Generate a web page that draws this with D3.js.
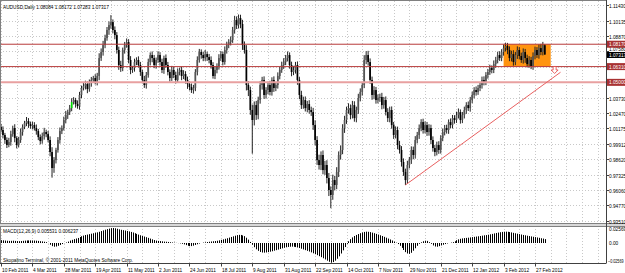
<!DOCTYPE html>
<html><head><meta charset="utf-8">
<script src="https://cdn.jsdelivr.net/npm/d3@7"></script>
<style>html,body{margin:0;padding:0;background:#fff;overflow:hidden}svg{display:block}</style>
</head><body><svg id="c" width="625" height="273"></svg>
<script>
// ---------------- DATA ----------------
const symbolTitle = "AUDUSD,Daily";
const lastOHLC = [1.08084, 1.08172, 1.07283, 1.07317];
const macdTitle = "MACD(12,26,9)";
const macdSignal = 0.006237;
const copyright = "Skopalino Terminal, \u00A9 2001-2011 MetaQuotes Software Corp.";
const dateLabels = ["10 Feb 2011","4 Mar 2011","28 Mar 2011","19 Apr 2011","11 May 2011","2 Jun 2011","24 Jun 2011","18 Jul 2011","9 Aug 2011","31 Aug 2011","22 Sep 2011","14 Oct 2011","7 Nov 2011","29 Nov 2011","21 Dec 2011","12 Jan 2012","3 Feb 2012","27 Feb 2012"];
const barsPerLabel = 16;
const firstOpen = 1.0130;
const closes = [
1.0104,1.0062,1.0021,0.9979,1.0004,1.0070,1.0120,1.0037,0.9979,1.0021,1.0087,1.0129,1.0162,1.0178,1.0154,1.0137,1.0145,1.0120,1.0095,1.0045,1.0012,1.0054,1.0087,1.0070,1.0021,
0.9921,0.9788,0.9854,0.9938,1.0021,1.0095,1.0120,1.0187,1.0228,1.0253,1.0286,1.0336,1.0353,1.0320,1.0303,1.0395,1.0453,1.0469,1.0486,1.0444,1.0494,1.0520,1.0536,1.0503,1.0553,1.0702,
1.0752,1.0810,1.0868,1.0935,1.0976,1.1001,1.0935,1.0893,1.0769,1.0644,1.0619,1.0769,1.0810,1.0835,1.0686,1.0603,1.0619,1.0669,1.0686,1.0644,1.0586,1.0520,1.0478,1.0561,1.0669,1.0727,1.0702,1.0644,1.0686,1.0727,1.0669,1.0603,1.0702,1.0644,1.0586,1.0536,1.0603,1.0561,1.0520,1.0586,1.0603,1.0553,1.0569,1.0520,1.0486,1.0461,1.0436,1.0453,1.0586,1.0686,1.0752,
1.0727,1.0702,1.0735,1.0710,1.0686,1.0644,1.0553,1.0603,1.0636,1.0702,1.0735,1.0669,1.0769,1.0810,1.0835,1.0852,1.0935,1.1018,1.0976,1.1034,1.0985,1.0810,1.0769,1.0478,1.0436,1.0270,1.0187,1.0311,1.0228,1.0353,1.0478,1.0520,1.0395,1.0436,1.0478,1.0420,1.0520,1.0453,1.0478,
1.0553,1.0603,1.0644,1.0669,1.0702,1.0727,1.0644,1.0586,1.0603,1.0644,1.0520,1.0395,1.0311,1.0353,1.0286,1.0320,1.0270,1.0253,1.0145,1.0021,0.9854,0.9813,0.9896,0.9771,0.9813,0.9705,0.9605,0.9564,0.9688,0.9647,0.9755,0.9896,0.9938,1.0120,1.0187,1.0270,1.0286,1.0228,1.0311,1.0203,
1.0270,1.0370,1.0420,1.0478,1.0686,1.0727,1.0669,1.0520,1.0395,1.0436,1.0353,1.0370,1.0378,1.0311,1.0353,1.0253,1.0203,1.0270,1.0145,1.0062,1.0104,0.9979,0.9938,0.9838,0.9755,0.9688,0.9813,0.9854,0.9938,0.9896,1.0021,1.0062,1.0120,1.0170,1.0104,1.0145,1.0087,1.0120,1.0021,0.9954,
0.9921,0.9979,0.9938,1.0037,1.0087,1.0120,1.0104,1.0170,1.0145,1.0203,1.0187,1.0228,1.0253,1.0187,1.0228,1.0270,1.0311,1.0286,1.0353,1.0395,1.0436,1.0420,1.0453,1.0478,1.0520,1.0503,1.0561,1.0586,1.0619,1.0603,1.0652,1.0686,1.0727,1.0702,1.0752,1.0785,1.0802,1.0769,1.0702,1.0735,
1.0669,1.0727,1.0769,1.0719,1.0686,1.0752,1.0702,1.0652,1.0686,1.0636,1.0719,1.0769,1.0727,1.0785,1.0752,1.08084,1.07317];
// upper / lower shadow lengths in pips
const hiWick = [
25,30,18,22,35,28,20,32,15,26,30,22,18,34,25,20,28,24,30,18,
22,28,35,20,26,30,40,25,18,24,30,22,28,35,20,26,32,24,18,30,
26,20,34,28,22,30,25,18,32,26,40,30,35,28,25,30,58,22,30,25,
28,35,20,26,30,24,32,18,28,22,30,26,20,34,25,28,22,30,26,20,
32,24,28,20,30,26,22,34,25,28,30,20,26,32,24,28,22,30,26,24,
30,26,22,28,34,20,26,30,24,28,22,32,26,20,30,28,24,30,26,35,
30,30,28,35,30,40,32,28,45,30,35,28,32,26,30,24,28,35,22,30,
26,30,24,28,32,26,30,22,28,34,26,30,24,35,28,30,26,32,28,35,
40,32,45,30,38,35,40,42,30,45,35,40,30,38,32,35,28,40,30,35,
32,28,35,30,26,40,32,35,30,28,32,26,30,28,35,26,30,32,28,30,
26,30,28,35,32,30,28,35,26,30,28,32,26,30,24,28,30,26,32,28,
30,26,28,32,24,30,26,28,22,30,26,24,28,30,22,26,28,24,30,26,
28,24,30,26,22,28,30,24,26,28,22,30,26,28,32,24,30,28,26,30,
28,32,26,30,24,28,30,26,28,32,26,30,28,24,30,35,28,8.8];
const loWick = [
20,28,32,25,18,30,22,35,28,20,24,30,18,26,32,22,28,20,30,25,
28,22,30,26,20,35,80,40,28,22,30,25,20,28,32,24,26,20,30,22,
30,26,20,28,34,22,30,25,20,28,35,24,30,26,22,40,30,28,35,30,
40,32,26,30,22,28,35,24,30,26,20,32,28,24,30,22,28,35,26,30,
24,30,26,32,22,28,30,24,26,30,22,28,35,26,30,40,28,24,30,26,
28,22,30,26,24,32,28,30,22,26,28,30,24,28,22,30,26,28,24,30,
32,28,35,40,30,45,50,40,280,45,40,35,30,38,32,30,35,28,30,32,
26,30,28,24,32,26,28,30,35,26,30,40,35,32,30,28,35,30,32,40,
45,40,38,42,35,40,45,50,110,40,45,35,42,38,35,40,32,30,35,28,
30,35,32,28,30,26,35,30,32,40,35,30,28,32,35,30,28,32,35,30,
32,28,35,30,38,32,41,30,28,32,35,30,28,32,26,30,28,32,30,35,
30,35,28,32,30,26,28,30,32,26,28,30,24,28,30,26,28,32,24,30,
26,28,30,24,26,30,28,26,30,24,28,26,30,28,24,26,30,28,35,26,
28,30,26,32,28,24,30,40,28,30,26,32,28,24,30,26,28,3.4];
const macd = [
0.0040,0.0038,0.0035,0.0032,0.0030,0.0031,0.0033,0.0030,0.0027,0.0026,0.0028,0.0031,0.0034,0.0036,0.0037,0.0037,0.0036,0.0035,0.0033,0.0030,0.0026,0.0023,
0.0018,0.0012,-0.0002,-0.0025,-0.0045,-0.0053,-0.0050,-0.0040,-0.0028,-0.0015,-0.0003,0.0008,0.0020,
0.0035,0.0045,0.0055,0.0064,0.0072,0.0085,0.0097,0.0106,0.0114,0.0120,0.0126,0.0133,0.0139,0.0146,0.0152,0.0160,0.0170,0.0180,0.0190,0.0198,0.0205,0.0212,0.0214,
0.0210,0.0203,0.0195,0.0188,0.0183,0.0178,0.0172,0.0165,0.0158,0.0150,0.0140,0.0130,0.0120,0.0110,
0.0100,0.0092,0.0083,0.0073,0.0063,0.0052,0.0042,0.0034,
0.0030,0.0027,0.0024,0.0020,0.0018,0.0015,0.0011,0.0008,0.0005,0.0002,-0.0002,-0.0006,-0.0012,-0.0020,-0.0030,-0.0040,-0.0045,
-0.0044,-0.0038,-0.0028,-0.0018,-0.0008,0.0000,0.0006,0.0010,0.0014,
0.0018,0.0022,0.0025,0.0028,0.0032,0.0038,0.0045,0.0052,0.0060,0.0068,0.0077,0.0086,0.0095,0.0104,0.0112,0.0116,
0.0115,0.0108,0.0098,0.0075,
0.0048,0.0015,-0.0025,-0.0060,-0.0090,-0.0112,-0.0128,
-0.0136,-0.0138,-0.0135,
-0.0130,-0.0124,-0.0118,-0.0110,-0.0102,-0.0094,-0.0085,-0.0076,-0.0068,-0.0061,-0.0056,-0.0053,
-0.0052,-0.0054,-0.0058,-0.0064,-0.0072,-0.0082,-0.0092,-0.0102,-0.0112,-0.0122,-0.0134,-0.0147,-0.0160,-0.0174,-0.0188,
-0.0202,-0.0218,-0.0235,-0.0252,-0.0268,-0.0280,
-0.0272,-0.0252,-0.0225,-0.0190,-0.0150,-0.0105,-0.0058,-0.0012,
0.0025,0.0055,0.0080,0.0100,0.0115,0.0128,0.0140,0.0150,0.0158,0.0162,
0.0160,0.0155,0.0148,0.0140,0.0130,0.0120,0.0110,0.0100,0.0088,0.0076,0.0063,0.0050,0.0036,0.0020,0.0005,
-0.0015,-0.0040,-0.0070,-0.0100,-0.0130,-0.0150,-0.0155,-0.0140,
-0.0110,-0.0075,-0.0040,-0.0012,
0.0010,0.0025,0.0033,0.0030,
0.0012,-0.0012,-0.0035,-0.0050,-0.0053,
-0.0045,-0.0035,-0.0025,-0.0015,-0.0007,0.0000,0.0006,0.0012,
0.0025,0.0040,0.0052,0.0060,0.0066,0.0070,0.0073,0.0076,0.0080,0.0084,0.0088,0.0092,0.0096,0.0100,0.0105,0.0110,
0.0113,0.0118,0.0124,0.0130,0.0137,0.0143,0.0149,0.0154,0.0158,0.0161,0.0162,
0.0160,0.0156,0.0151,0.0145,0.0139,0.0133,0.0127,0.0121,0.0115,0.0110,0.0104,0.0099,0.0094,0.0089,0.0084,0.0079,0.0074,0.0068,0.0063,0.005531];
const priceTicks = [1.11430,1.10135,1.08870,1.07580,1.06300,1.05020,1.03730,1.02470,1.01175,0.99912,0.98620,0.97325,0.96060,0.94770,0.93510];
const macdTicks = [0.02569, 0, -0.02569];
const levels = [1.08170, 1.06310, 1.05000];
const boxBars = [256, 280];
const boxPrices = [1.08170, 1.06310];
const trendBars = [206, 285];
const trendPrices = [0.9647, 1.0584];
const arrowBar = 282, arrowPrice = 1.0603;
const highlightBar = 36;

// ---------------- DRAW ----------------
const svg = d3.select('#c');
const PR = 606; // right edge of plot
const x = d3.scaleLinear().domain([0, 272]).range([1, 535]);
const y = d3.scaleLinear().domain([0.93510, 1.11430]).range([220.6, 5]);
const ym = d3.scaleLinear().domain([-0.02569, 0.02569]).range([261, 225]);
const FONT = "'Liberation Sans', Arial, sans-serif";
const FS = 5.8, SX = 0.82;

svg.append('rect').attr('width', 625).attr('height', 273).attr('fill', '#fff');
const defs = svg.append('defs');
defs.append('clipPath').attr('id', 'cm').append('rect').attr('x', 0).attr('y', 1).attr('width', PR).attr('height', 222.5);
defs.append('clipPath').attr('id', 'cd').append('rect').attr('x', 0).attr('y', 226.5).attr('width', PR).attr('height', 37);

const bars = closes.map((c, i) => {
  const o = i ? closes[i - 1] : firstOpen;
  return { i, o, c, h: Math.max(o, c) + hiWick[i] / 1e4, l: Math.min(o, c) - loWick[i] / 1e4 };
});

const main = svg.append('g').attr('clip-path', 'url(#cm)');
const sub = svg.append('g').attr('clip-path', 'url(#cd)');
const gridCol = '#c8c8c8';
// grid
main.selectAll('line.hg').data(priceTicks).join('line').attr('class', 'hg')
  .attr('x1', 0).attr('x2', PR).attr('y1', d => Math.round(y(d)) + 0.5).attr('y2', d => Math.round(y(d)) + 0.5)
  .attr('stroke', gridCol).attr('stroke-dasharray', '1,2');
const vIdx = d3.range(0, 320, 8).filter(j => x(j) < PR);
[[main, 1, 224], [sub, 226, 263]].forEach(([g, a, b]) => {
  g.selectAll('line.vg').data(vIdx).join('line').attr('class', 'vg')
    .attr('x1', d => Math.round(x(d)) + 0.5).attr('x2', d => Math.round(x(d)) + 0.5)
    .attr('y1', a).attr('y2', b).attr('stroke', gridCol).attr('stroke-dasharray', '1,2');
});
// orange box
main.append('rect').attr('x', x(boxBars[0])).attr('width', x(boxBars[1]) - x(boxBars[0]))
  .attr('y', y(boxPrices[0])).attr('height', y(boxPrices[1]) - y(boxPrices[0])).attr('fill', '#ff9410');
// candles
main.selectAll('line.wk').data(bars).join('line').attr('class', 'wk')
  .attr('x1', d => x(d.i)).attr('x2', d => x(d.i)).attr('y1', d => y(d.h)).attr('y2', d => y(d.l))
  .attr('stroke', '#222').attr('stroke-width', 1);
main.selectAll('rect.bd').data(bars).join('rect').attr('class', 'bd')
  .attr('x', d => x(d.i) - 0.85).attr('width', 1.7)
  .attr('y', d => y(Math.max(d.o, d.c))).attr('height', d => Math.max(0.8, Math.abs(y(d.o) - y(d.c))))
  .attr('fill', d => d.i === highlightBar ? '#00e000' : (d.c >= d.o ? '#555' : '#000'));
// level lines
const levelStyle = [{ c: '#b83a3a', w: 1 }, { c: '#b83a3a', w: 1 }, { c: '#e8a0a0', w: 2 }];
levels.forEach((v, k) => {
  main.append('line').attr('x1', 0).attr('x2', PR).attr('y1', y(v)).attr('y2', y(v))
    .attr('stroke', levelStyle[k].c).attr('stroke-width', levelStyle[k].w);
});
// trend line
main.append('line').attr('x1', x(trendBars[0])).attr('y1', y(trendPrices[0]))
  .attr('x2', x(trendBars[1])).attr('y2', y(trendPrices[1])).attr('stroke', '#e86060').attr('stroke-width', 1);
// arrow
const ax = x(arrowBar), ay = y(arrowPrice);
main.append('path').attr('d', `M${ax-1.5},${ay-3.5}h3v3.5h2l-3.5,3.5l-3.5,-3.5h2z`)
  .attr('fill', '#fff').attr('stroke', '#e04040').attr('stroke-width', 0.8);
// MACD histogram
sub.selectAll('line.mh').data(macd).join('line').attr('class', 'mh')
  .attr('x1', (d, i) => Math.round(x(i)) + 0.5).attr('x2', (d, i) => Math.round(x(i)) + 0.5)
  .attr('y1', ym(0)).attr('y2', d => ym(d)).attr('stroke', '#000').attr('stroke-width', 1);

// frames
const fr = '#808080';
svg.append('line').attr('x1', 0).attr('x2', PR).attr('y1', 0.5).attr('y2', 0.5).attr('stroke', fr);
svg.append('line').attr('x1', 0.5).attr('x2', 0.5).attr('y1', 0).attr('y2', 263.5).attr('stroke', fr);
svg.append('rect').attr('x', 0).attr('y', 223.5).attr('width', 625).attr('height', 3).attr('fill', '#d8d8d8');
svg.append('line').attr('x1', 0).attr('x2', 625).attr('y1', 223.5).attr('y2', 223.5).attr('stroke', fr);
svg.append('line').attr('x1', 0).attr('x2', 625).attr('y1', 226.5).attr('y2', 226.5).attr('stroke', fr);
svg.append('line').attr('x1', 0).attr('x2', PR).attr('y1', 263.5).attr('y2', 263.5).attr('stroke', '#404040');
svg.append('line').attr('x1', PR + 0.5).attr('x2', PR + 0.5).attr('y1', 0).attr('y2', 263.5).attr('stroke', '#404040');

function txt(px, py, s, col, anchor, sx) {
  return svg.append('text').attr('transform', `translate(${px},${py}) scale(${sx || SX},1)`)
    .attr('font-family', FONT).attr('font-size', FS).attr('fill', col || '#000')
    .attr('text-anchor', anchor || 'start').text(s);
}
// price axis labels
const f5 = d3.format('.5f');
const yLast = y(lastOHLC[3]);
priceTicks.forEach(v => {
  const yy = Math.round(y(v)) + 0.5;
  svg.append('line').attr('x1', PR).attr('x2', PR + 3).attr('y1', yy).attr('y2', yy).attr('stroke', '#404040');
  // lift a tick label when the current-price tag sits right under it
  const shift = Math.abs(yy - yLast) < 7 ? -3 : 0;
  txt(609, yy + 2 + shift, f5(v));
});
levels.forEach((v, k) => {
  const yy = y(v);
  svg.append('rect').attr('x', PR + 1).attr('y', yy - 3.5).attr('width', 19).attr('height', 7).attr('fill', '#a83232');
  txt(609, yy + 2, f5(v), '#fff');
});
svg.append('rect').attr('x', PR + 1).attr('y', yLast - 2.5).attr('width', 19).attr('height', 6).attr('fill', '#000');
txt(609, yLast + 2.5, f5(lastOHLC[3]), '#fff');
// MACD axis
macdTicks.forEach(v => {
  const yy = Math.min(261, Math.max(228.5, ym(v)));
  txt(v < 0 ? 608 : 609, yy + 2, v === 0 ? '0.00' : f5(v), '#000', 'start', v < 0 ? 0.64 : SX);
});
// time axis
dateLabels.forEach((s, k) => {
  const xx = Math.round(x(k * barsPerLabel)) + 0.5;
  svg.append('line').attr('x1', xx).attr('x2', xx).attr('y1', 263.5).attr('y2', 266.5).attr('stroke', '#404040');
  txt(xx + 0.5, 271.5, s);
});
// titles
txt(3, 8.5, symbolTitle + ' ' + lastOHLC.map(f5).join(' '));
txt(3, 232.5, macdTitle + ' ' + macd[macd.length - 1].toFixed(6) + ' ' + macdSignal.toFixed(6));
txt(3, 261.5, copyright);
</script></body></html>
